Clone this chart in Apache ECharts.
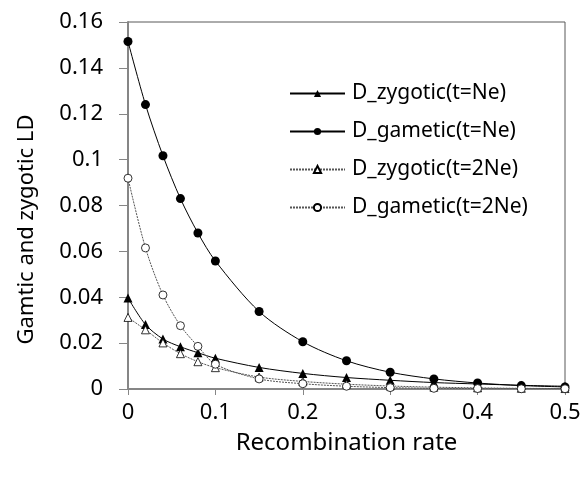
<!DOCTYPE html>
<html>
<head>
<meta charset="utf-8">
<script src="https://cdn.jsdelivr.net/npm/echarts@6/dist/echarts.min.js"></script>
<style>html,body{margin:0;padding:0;background:#fff}#c{width:588px;height:481px}</style>
</head>
<body>
<div id="c"></div>
<script>
var rates = [0, 0.02, 0.04, 0.06, 0.08, 0.1, 0.15, 0.2, 0.25, 0.3, 0.35, 0.4, 0.45, 0.5];
var zygoticNe  = [0.0397, 0.0281, 0.0218, 0.0184, 0.0158, 0.0134, 0.0094, 0.0068, 0.0050, 0.0038, 0.0028, 0.0022, 0.0016, 0.0012];
var gameticNe  = [0.1515, 0.1240, 0.1017, 0.0830, 0.0680, 0.0558, 0.0338, 0.0206, 0.0123, 0.0073, 0.0044, 0.0026, 0.0015, 0.0009];
var zygotic2Ne = [0.0312, 0.0258, 0.0201, 0.0154, 0.0119, 0.0093, 0.0052, 0.0033, 0.0021, 0.0013, 0.0008, 0.0005, 0.0003, 0.0002];
var gametic2Ne = [0.0919, 0.0615, 0.0410, 0.0276, 0.0186, 0.0108, 0.0044, 0.0023, 0.0012, 0.0006, 0.0003, 0.0002, 0.0001, 0.0001];
var seriesNames = ['D_zygotic(t=Ne)', 'D_gametic(t=Ne)', 'D_zygotic(t=2Ne)', 'D_gametic(t=2Ne)'];

function pairs(ys) { return rates.map(function (x, i) { return [x, ys[i]]; }); }

var FONT = 'Noto Sans';
var chart = echarts.init(document.getElementById('c'), null, {renderer: 'canvas'});
chart.setOption({
  animation: false,
  backgroundColor: '#fff',
  textStyle: {fontFamily: FONT},
  grid: {left: 128, top: 22, right: 23, bottom: 92, show: true, borderColor: '#595959', borderWidth: 1, containLabel: false},
  legend: {
    orient: 'vertical', left: 284, top: 78, itemWidth: 55, itemHeight: 9, itemGap: 17,
    textStyle: {fontFamily: FONT, fontSize: 21, color: '#000', lineHeight: 21, padding: [0, 0, 0, 2]},
    data: seriesNames
  },
  xAxis: {
    type: 'value', min: 0, max: 0.5, interval: 0.1,
    name: 'Recombination rate', nameLocation: 'middle', nameGap: 42,
    nameTextStyle: {fontFamily: FONT, fontSize: 24, color: '#000'},
    axisLine: {lineStyle: {color: '#868686', width: 2}},
    axisTick: {show: true, inside: false, length: 6, lineStyle: {color: '#868686', width: 1}},
    axisLabel: {fontFamily: FONT, fontSize: 22, color: '#000', margin: 13},
    splitLine: {show: false}
  },
  yAxis: {
    type: 'value', min: 0, max: 0.16, interval: 0.02,
    name: 'Gamtic and zygotic LD', nameLocation: 'middle', nameGap: 90,
    nameTextStyle: {fontFamily: FONT, fontSize: 22, color: '#000', padding: [0, 48, 0, 0]},
    axisLine: {lineStyle: {color: '#868686', width: 2}},
    axisTick: {show: true, inside: false, length: 9, lineStyle: {color: '#868686', width: 1}},
    axisLabel: {fontFamily: FONT, fontSize: 22, color: '#000', margin: 25},
    splitLine: {show: false}
  },
  series: [
    {name: seriesNames[0], type: 'line', smooth: 0.3, data: pairs(zygoticNe),
     symbol: 'triangle', symbolSize: 9,
     lineStyle: {color: '#000', width: 1},
     itemStyle: {color: '#000', borderColor: '#000', borderWidth: 0}},
    {name: seriesNames[1], type: 'line', smooth: 0.3, data: pairs(gameticNe),
     symbol: 'circle', symbolSize: 9,
     lineStyle: {color: '#000', width: 1},
     itemStyle: {color: '#000', borderColor: '#000', borderWidth: 0}},
    {name: seriesNames[2], type: 'line', smooth: 0.3, data: pairs(zygotic2Ne),
     symbol: 'triangle', symbolSize: 8,
     lineStyle: {color: '#555', width: 1, type: [2, 1]},
     itemStyle: {color: '#fff', borderColor: '#000', borderWidth: 0.8}},
    {name: seriesNames[3], type: 'line', smooth: 0.3, data: pairs(gametic2Ne),
     symbol: 'circle', symbolSize: 8,
     lineStyle: {color: '#555', width: 1, type: [2, 1]},
     itemStyle: {color: '#fff', borderColor: '#000', borderWidth: 0.8}}
  ]
});
</script>
</body>
</html>
